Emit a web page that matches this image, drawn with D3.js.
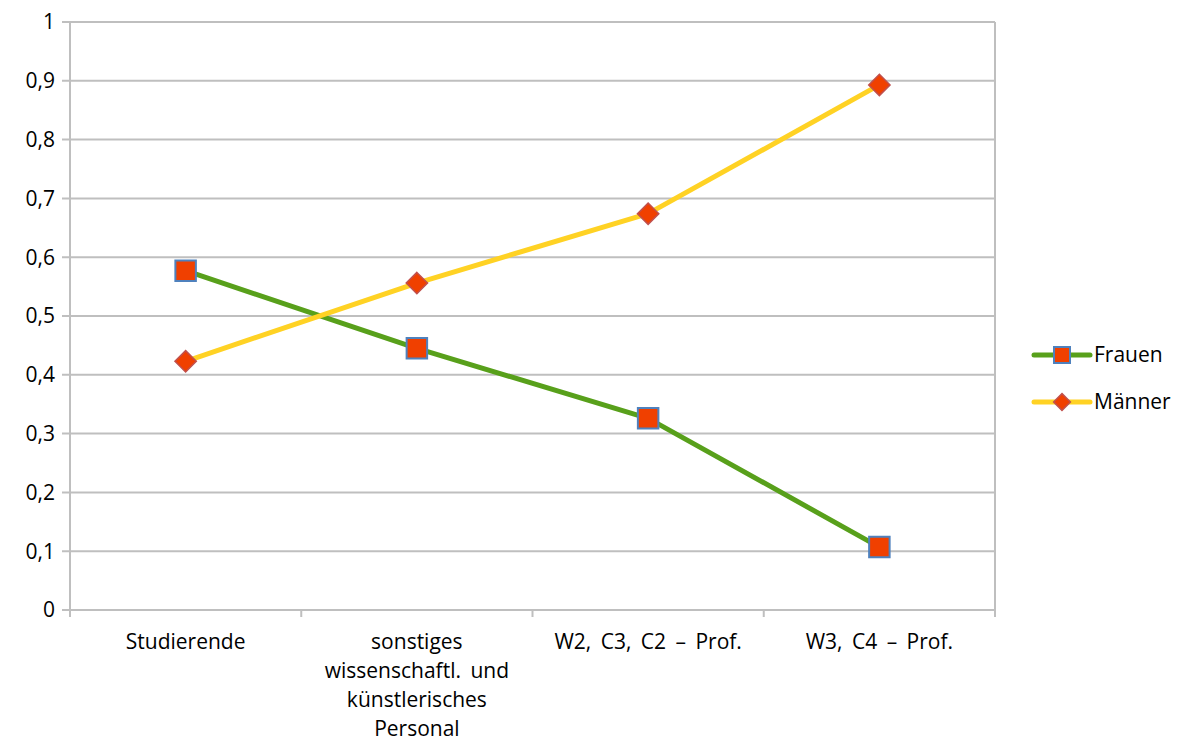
<!DOCTYPE html>
<html><head><meta charset="utf-8">
<script src="https://cdn.jsdelivr.net/npm/d3@7"></script>
<style>body{margin:0;background:#fff}text{font-family:"Open Sans",sans-serif;fill:#000}</style>
</head><body>
<svg id="c" width="1184" height="745"></svg>
<script>
const categories = ["Studierende", "sonstiges wissenschaftl. und künstlerisches Personal", "W2, C3, C2 – Prof.", "W3, C4 – Prof."];
const categoryLines = [["Studierende"], ["sonstiges", "wissenschaftl. und", "künstlerisches", "Personal"], ["W2, C3, C2 – Prof."], ["W3, C4 – Prof."]];
const frauen = [0.577, 0.445, 0.326, 0.107];
const maenner = [0.423, 0.556, 0.674, 0.893];
const yTicks = [0, 0.1, 0.2, 0.3, 0.4, 0.5, 0.6, 0.7, 0.8, 0.9, 1];
const yTickLabels = ["0", "0,1", "0,2", "0,3", "0,4", "0,5", "0,6", "0,7", "0,8", "0,9", "1"];
const seriesNames = ["Frauen", "Männer"];

const svg = d3.select("#c");
const L = 70, R = 995, T = 22, B = 610;
const x = d3.scaleBand().domain(categories).range([L, R]);
const y = d3.scaleLinear().domain([0, 1]).range([B, T]);
const grid = "#bfbfbf";
const FS = 21;

svg.append("g").selectAll("line").data(yTicks).join("line")
  .attr("x1", L - 8).attr("x2", R).attr("y1", d => y(d)).attr("y2", d => y(d))
  .attr("stroke", grid).attr("stroke-width", 2);
svg.append("g").selectAll("text").data(yTicks).join("text")
  .attr("x", 55).attr("y", d => y(d)).attr("dy", "0.35em").attr("text-anchor", "end")
  .attr("font-size", FS).text((d, i) => yTickLabels[i]);
svg.append("line").attr("x1", L).attr("x2", L).attr("y1", T).attr("y2", B + 7).attr("stroke", grid).attr("stroke-width", 2);
svg.append("line").attr("x1", R).attr("x2", R).attr("y1", T).attr("y2", B + 7).attr("stroke", grid).attr("stroke-width", 2);
svg.append("g").selectAll("line").data(categories.slice(1)).join("line")
  .attr("x1", d => x(d)).attr("x2", d => x(d)).attr("y1", B).attr("y2", B + 7)
  .attr("stroke", grid).attr("stroke-width", 2);
const cl = svg.append("g").selectAll("text").data(categories).join("text")
  .attr("x", d => x(d) + x.bandwidth() / 2).attr("y", 649).attr("text-anchor", "middle")
  .attr("font-size", FS).style("word-spacing", "4px");
cl.each(function(d, i) {
  d3.select(this).selectAll("tspan").data(categoryLines[i]).join("tspan")
    .attr("x", x(d) + x.bandwidth() / 2).attr("dy", (t, j) => j === 0 ? 0 : 29).text(t => t);
});

const cx = (d, i) => x(categories[i]) + x.bandwidth() / 2;
const line = d3.line().x(cx).y(d => y(d));
svg.append("path").datum(frauen).attr("d", line).attr("fill", "none").attr("stroke", "#58a01b").attr("stroke-width", 5).attr("stroke-linejoin", "round");
svg.append("path").datum(maenner).attr("d", line).attr("fill", "none").attr("stroke", "#ffd224").attr("stroke-width", 5).attr("stroke-linejoin", "round");

const sq = d3.symbol().type(d3.symbolSquare).size(420);
const dm = d3.symbol().type(d3.symbolDiamond2).size(290);
svg.append("g").selectAll("path").data(frauen).join("path")
  .attr("transform", (d, i) => `translate(${cx(d, i)},${y(d)})`).attr("d", sq)
  .attr("fill", "#f04000").attr("stroke", "#4f81bd").attr("stroke-width", 2);
svg.append("g").selectAll("path").data(maenner).join("path")
  .attr("transform", (d, i) => `translate(${cx(d, i)},${y(d)})`).attr("d", dm)
  .attr("fill", "#f04000").attr("stroke", "#c0504d").attr("stroke-width", 1.5);

const lg = svg.append("g");
const ly = [355, 402];
lg.append("line").attr("x1", 1034).attr("x2", 1090).attr("y1", ly[0]).attr("y2", ly[0]).attr("stroke", "#58a01b").attr("stroke-width", 5).attr("stroke-linecap", "round");
lg.append("line").attr("x1", 1034).attr("x2", 1090).attr("y1", ly[1]).attr("y2", ly[1]).attr("stroke", "#ffd224").attr("stroke-width", 5).attr("stroke-linecap", "round");
lg.append("path").attr("transform", `translate(1062,${ly[0]})`).attr("d", d3.symbol().type(d3.symbolSquare).size(256)).attr("fill", "#f04000").attr("stroke", "#4f81bd").attr("stroke-width", 2);
lg.append("path").attr("transform", `translate(1062,${ly[1]})`).attr("d", d3.symbol().type(d3.symbolDiamond2).size(180)).attr("fill", "#f04000").attr("stroke", "#c0504d").attr("stroke-width", 1.5);
lg.selectAll("text").data(seriesNames).join("text").attr("x", 1094).attr("y", (d, i) => ly[i]).attr("dy", "0.35em").attr("font-size", FS).text(d => d);
</script>
</body></html>
